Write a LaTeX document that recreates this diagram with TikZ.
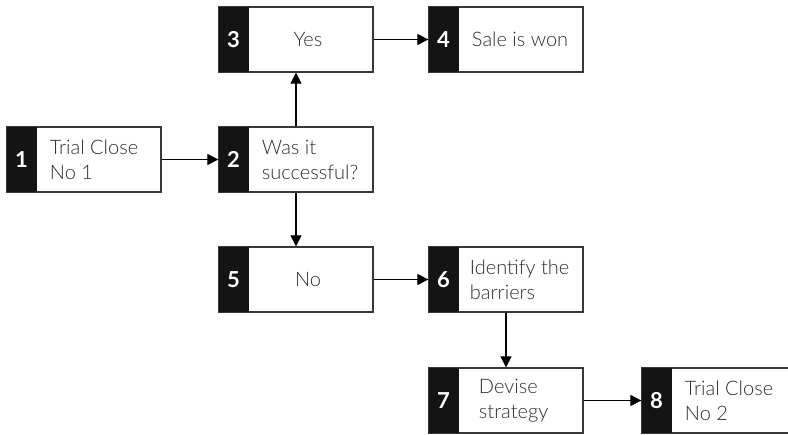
\documentclass[tikz,border=0pt]{standalone}
\usepackage{fontspec}
\setmainfont{Lato}
\newfontfamily\lightfont{Lato Light}
\usetikzlibrary{arrows.meta}
\definecolor{boxline}{gray}{0.22}
\definecolor{textgrey}{gray}{0.18}

\begin{document}
\begin{tikzpicture}[x=1pt, y=-1pt,
    stagebox/.style={draw=boxline, line width=1.3pt, minimum width=154pt, minimum height=65pt, inner sep=0pt},
    stagetab/.style={fill=black!92, anchor=west, minimum width=30pt, minimum height=65pt, inner sep=0pt, text=white, font=\bfseries\fontsize{22}{22}\selectfont},
    stagetext/.style={anchor=west, align=left, inner sep=0pt, text=textgrey, font=\lightfont\fontsize{20}{25}\selectfont},
    >={Triangle[length=11pt,width=11pt]}]
    \useasboundingbox (0,0) rectangle (788,435);

    \node[stagebox] at (84, 159.5)(b1){};
    \node[stagebox] at (296, 159.5)(b2){};
    \node[stagebox] at (296, 39.5)(b3){};
    \node[stagebox] at (506, 39.5)(b4){};
    \node[stagebox] at (296, 279.5)(b5){};
    \node[stagebox] at (506, 279.5)(b6){};
    \node[stagebox] at (506, 400.5)(b7){};
    \node[stagebox] at (719, 400.5)(b8){};

    \node[stagetab] at (b1.west)(t1){1};
    \node[stagetab] at (b2.west)(t2){2};
    \node[stagetab] at (b3.west)(t3){3};
    \node[stagetab] at (b4.west)(t4){4};
    \node[stagetab] at (b5.west)(t5){5};
    \node[stagetab] at (b6.west)(t6){6};
    \node[stagetab] at (b7.west)(t7){7};
    \node[stagetab] at (b8.west)(t8){8};

    \node[stagetext] at ([xshift=13pt]t1.east)(l1){Trial Close\\No 1};
    \node[stagetext] at ([xshift=13pt]t2.east)(l2){Was it\\successful?};
    \node[stagetext, anchor=center] at ([xshift=12pt]b3.center)(l3){Yes};
    \node[stagetext] at ([xshift=13pt]t4.east)(l4){Sale is won};
    \node[stagetext, anchor=center] at ([xshift=12pt]b5.center)(l5){No};
    \node[stagetext] at ([xshift=11pt]t6.east)(l6){Identify the\\barriers};
    \node[stagetext] at ([xshift=20pt]t7.east)(l7){Devise\\strategy};
    \node[stagetext] at ([xshift=13pt]t8.east)(l8){Trial Close\\No 2};

    \path[->, line width=1.2pt]
        (b1)edge(b2)
        (b2)edge(b3)
        (b3)edge(b4)
        (b2)edge(b5)
        (b5)edge(b6)
        (b6)edge(b7)
        (b7)edge(b8)
        ;
\end{tikzpicture}
\end{document}
